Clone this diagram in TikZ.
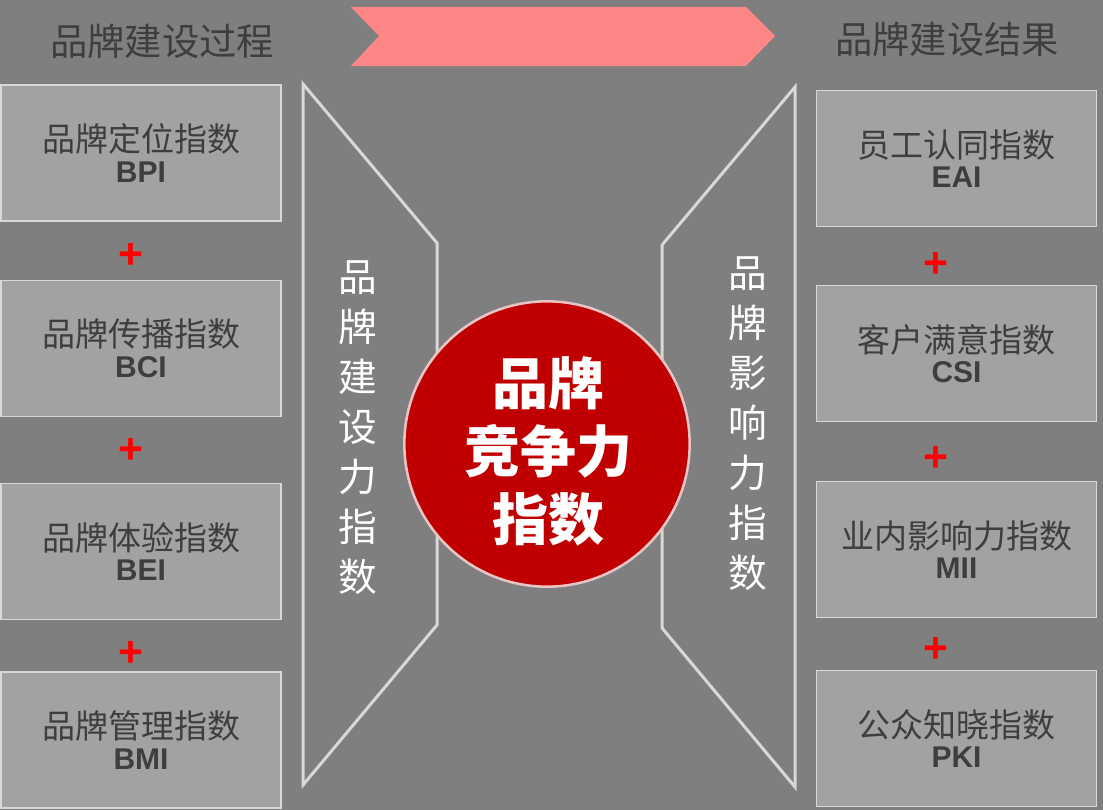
\documentclass[tikz,border=0pt]{standalone}
\usepackage{fontspec}
\setmainfont{Liberation Sans}
\newfontfamily\cjk{Noto Sans CJK SC}
\usetikzlibrary{shapes.geometric}
\definecolor{bggray}{RGB}{127,127,127}
\definecolor{boxgray}{RGB}{162,162,162}
\definecolor{edgegray}{RGB}{216,216,216}
\definecolor{txtgray}{RGB}{62,62,62}
\definecolor{ribbonpink}{RGB}{255,134,134}
\definecolor{corered}{RGB}{192,0,0}
\definecolor{coreedge}{RGB}{232,196,196}

\begin{document}
\begin{tikzpicture}[x=0.75pt,y=0.75pt,yscale=-1,xscale=1,
  idxbox/.style={draw=edgegray, fill=boxgray, line width=1.1, minimum width=210pt, minimum height=102pt, inner sep=0pt, align=center, text=txtgray, font=\fontsize{24.75}{23}\selectfont},
  headtext/.style={text=txtgray, font=\cjk\fontsize{28}{30}\selectfont},
  funnel/.style={draw=edgegray, line width=2.25},
  vtext/.style={text=white, align=center, font=\cjk\fontsize{29}{37.5}\selectfont},
  plussign/.style={text=red, inner sep=0pt, font=\bfseries\fontsize{32}{32}\selectfont}]
%set diagram size 1103 x 810
\useasboundingbox (0,0) rectangle (1103,810);
\fill[bggray] (0,0) rectangle (1103,810);

%Shape: Ribbon
\draw [fill=ribbonpink, draw=none] (351,7) -- (746,7) -- (775,36) -- (746,66) -- (351,66) -- (379,36) -- cycle ;

% Text Node
\node [headtext] (proc) at (162,41) {品牌建设过程};
% Text Node
\node [headtext] (result) at (947,39) {品牌建设结果};

%Shape: Left funnel
\draw [funnel] (303,84) -- (437,243) -- (437,625) -- (303,785) -- cycle ;
%Shape: Right funnel
\draw [funnel] (795,87) -- (662,245) -- (662,628) -- (795,787) -- cycle ;

% Text Node
\node [vtext] (buildtxt) at (358,428) {品\\牌\\建\\设\\力\\指\\数};
% Text Node
\node [vtext] (influtxt) at (748,423.5) {品\\牌\\影\\响\\力\\指\\数};

%Shape: Circle
\node [circle, fill=corered, draw=coreedge, line width=1.9, minimum size=214pt, inner sep=0pt] (core) at (547,444) {};
% Text Node
\node [text=white, align=center, font=\cjk\bfseries\fontsize{42}{51}\selectfont] (coretxt) at (548,451) {品牌\\竞争力\\指数};

%Left boxes
\node [idxbox] (bpi) at (141,153) {{\cjk 品牌定位指数}\\{\fontsize{22.5}{23}\selectfont\bfseries BPI}};
\node [idxbox] (bci) at (141,348.5) {{\cjk 品牌传播指数}\\{\fontsize{22.5}{23}\selectfont\bfseries BCI}};
\node [idxbox] (bei) at (141,551.5) {{\cjk 品牌体验指数}\\{\fontsize{22.5}{23}\selectfont\bfseries BEI}};
\node [idxbox] (bmi) at (141,740) {{\cjk 品牌管理指数}\\{\fontsize{22.5}{23}\selectfont\bfseries BMI}};

%Right boxes
\node [idxbox] (eai) at (956.5,158.5) {{\cjk 员工认同指数}\\{\fontsize{22.5}{23}\selectfont\bfseries EAI}};
\node [idxbox] (csi) at (956.5,353.5) {{\cjk 客户满意指数}\\{\fontsize{22.5}{23}\selectfont\bfseries CSI}};
\node [idxbox] (mii) at (956.5,549.5) {{\cjk 业内影响力指数}\\{\fontsize{22.5}{23}\selectfont\bfseries MII}};
\node [idxbox] (pki) at (956.5,738.5) {{\cjk 公众知晓指数}\\{\fontsize{22.5}{23}\selectfont\bfseries PKI}};

%Plus signs
\node [plussign] (plusa) at (131,256) {+};
\node [plussign] (plusb) at (131,451) {+};
\node [plussign] (plusc) at (131,654) {+};
\node [plussign] (plusd) at (936,265) {+};
\node [plussign] (pluse) at (936,459) {+};
\node [plussign] (plusf) at (936,650) {+};

\end{tikzpicture}
\end{document}
